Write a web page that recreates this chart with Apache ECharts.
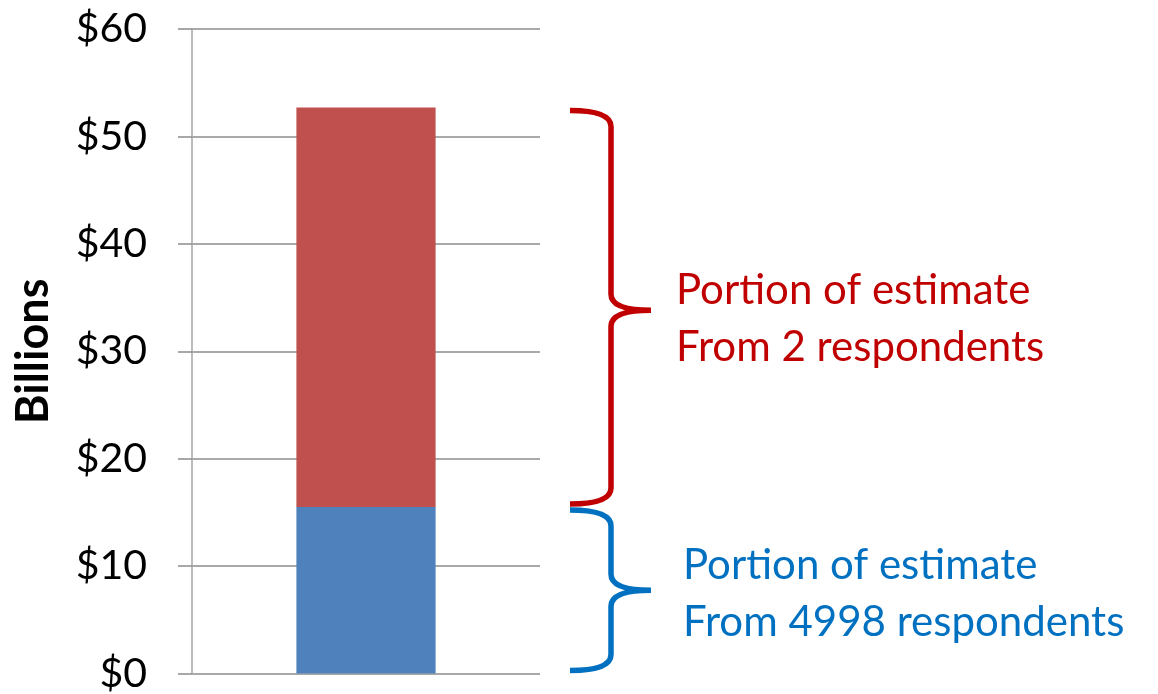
<!DOCTYPE html>
<html>
<head>
<meta charset="utf-8">
<script src="https://cdn.jsdelivr.net/npm/echarts@6/dist/echarts.min.js"></script>
<style>html,body{margin:0;padding:0;background:#fff;}#chart{width:1158px;height:694px;}</style>
</head>
<body>
<div id="chart"></div>
<script>
const categories = ['Estimate'];
const fromMany = [15.5];   // portion from 4998 respondents
const fromFew = [37.2];    // portion from 2 respondents
const yTicks = [0, 10, 20, 30, 40, 50, 60];
const braceLabels = ['Portion of estimate\nFrom 4998 respondents', 'Portion of estimate\nFrom 2 respondents'];

const FONT = 'Lato, "Open Sans", sans-serif';
const braceData = [
  [0, 0, fromMany[0], 0],
  [0, fromMany[0], fromMany[0] + fromFew[0], 1]
];
const braceColors = ['#0070C0', '#C00000'];

const chart = echarts.init(document.getElementById('chart'));
chart.setOption({
  animation: false,
  grid: { left: 192, right: 618, top: 29, bottom: 20 },
  xAxis: {
    type: 'category', data: categories,
    axisLine: { show: false }, axisTick: { show: false }, axisLabel: { show: false }
  },
  yAxis: {
    type: 'value', min: yTicks[0], max: yTicks[yTicks.length - 1], interval: 10,
    name: 'Billions', nameLocation: 'middle', nameGap: 136, nameRotate: 90,
    nameTextStyle: { fontFamily: FONT, fontWeight: 'bold', fontSize: 45, color: '#000' },
    axisLine: { show: true, lineStyle: { color: '#a6a6a6', width: 1.5 } },
    axisTick: { show: true, length: 14, lineStyle: { color: '#8c8c8c', width: 1.5 } },
    axisLabel: { margin: 45, fontFamily: FONT, fontSize: 41, color: '#000', formatter: v => '$' + v },
    splitLine: { show: true, lineStyle: { color: '#8c8c8c', width: 1.5 } }
  },
  series: [
    { type: 'bar', stack: 'a', data: fromMany, barWidth: '40%', itemStyle: { color: '#4F81BD' } },
    { type: 'bar', stack: 'a', data: fromFew, barWidth: '40%', itemStyle: { color: '#C0504D' } },
    {
      type: 'custom', clip: false, silent: true, data: braceData,
      encode: { x: 0, y: 2 },
      renderItem: function (params, api) {
        const lo = api.value(1), hi = api.value(2), idx = api.value(3);
        const top = api.coord([0, hi])[1] + 3;
        const bot = api.coord([0, lo])[1] - 3;
        const cs = params.coordSys;
        const x0 = cs.x + cs.width + 30;
        const xv = x0 + 41, xt = x0 + 81, r = 16;
        const ym = (top + bot) / 2 + (idx === 1 ? 3 : 0);
        const d = `M${x0},${top} Q${xv},${top} ${xv},${top + r} L${xv},${ym - r} Q${xv},${ym} ${xt},${ym} ` +
                  `M${xt},${ym} Q${xv},${ym} ${xv},${ym + r} L${xv},${bot - r} Q${xv},${bot} ${x0},${bot}`;
        const color = braceColors[idx];
        return {
          type: 'group',
          children: [
            { type: 'path', shape: { pathData: d }, style: { stroke: color, fill: 'none', lineWidth: 5.5 } },
            { type: 'text', style: { text: braceLabels[idx], x: xt + 25 + (idx === 0 ? 7 : 0), y: ym + (idx === 0 ? 4 : 9),
                verticalAlign: 'middle', align: 'left', fill: color, fontFamily: FONT, fontSize: 42, lineHeight: 57 } }
          ]
        };
      }
    }
  ]
});
</script>
</body>
</html>
